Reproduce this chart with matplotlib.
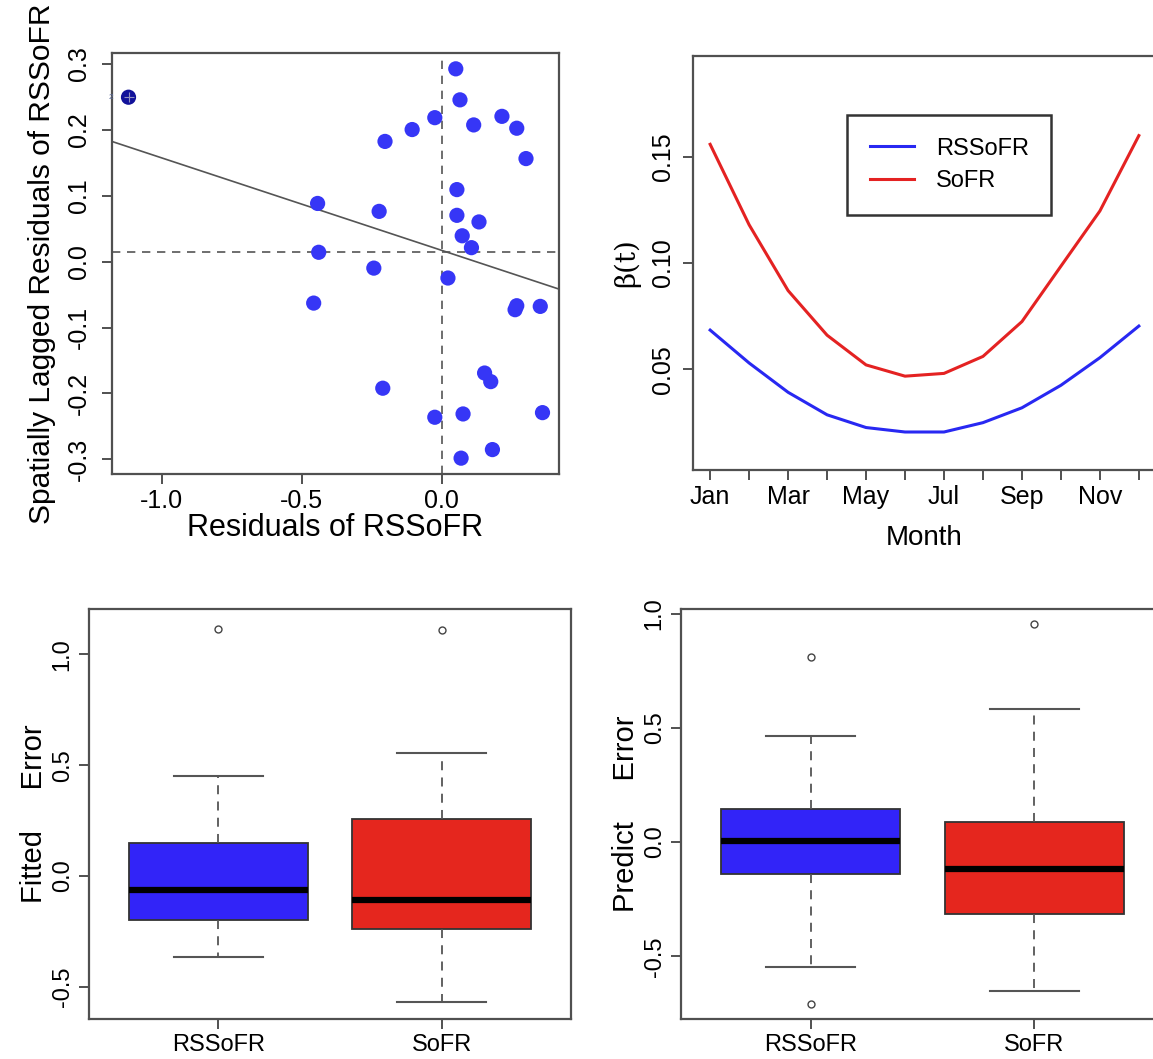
"""
Residual diagnostics and coefficient curves for RSSoFR vs SoFR (four panels).
"""

import matplotlib
matplotlib.use("Agg")
import matplotlib.pyplot as plt
from matplotlib import font_manager

# --- Moran scatter: residuals vs spatially lagged residuals -----------------
resid = [-1.119, 0.051, 0.066, -0.024, 0.115, 0.216, 0.269, -0.105, -0.202,
         0.302, 0.055, -0.443, -0.223, 0.055, 0.134, 0.074, 0.107, -0.439,
         -0.242, 0.023, -0.457, 0.269, 0.263, 0.353, 0.154, 0.176, -0.210,
         -0.024, 0.077, 0.361, 0.182, 0.070]
lagged = [0.249, 0.292, 0.245, 0.218, 0.207, 0.220, 0.202, 0.200, 0.182,
          0.156, 0.109, 0.088, 0.076, 0.070, 0.060, 0.039, 0.021, 0.014,
          -0.010, -0.025, -0.063, -0.067, -0.073, -0.068, -0.169, -0.182,
          -0.192, -0.236, -0.231, -0.229, -0.285, -0.298]
influential_idx = 0
influential_label = "2"
fit_intercept = 0.017
fit_slope = -0.140
mean_resid = 0.0
mean_lagged = 0.0146

# --- beta(t) curves ---------------------------------------------------------
months = [1, 2, 3, 4, 5, 6, 7, 8, 9, 10, 11, 12]
month_labels = ["Jan", "", "Mar", "", "May", "", "Jul", "", "Sep", "", "Nov", ""]
beta_rssofr = [0.0684, 0.0529, 0.0391, 0.0285, 0.0225, 0.0204, 0.0204,
               0.0248, 0.0318, 0.0424, 0.0554, 0.0703]
beta_sofr = [0.1559, 0.1180, 0.0870, 0.0660, 0.0520, 0.0467, 0.0480,
             0.0560, 0.0724, 0.0985, 0.1245, 0.1600]

# --- boxplot summaries ------------------------------------------------------
models = ["RSSoFR", "SoFR"]
fit_stats = {
    "RSSoFR": dict(whislo=-0.365, q1=-0.199, med=-0.064, q3=0.150, whishi=0.450, fliers=[1.116]),
    "SoFR": dict(whislo=-0.568, q1=-0.240, med=-0.106, q3=0.258, whishi=0.556, fliers=[1.111]),
}
pred_stats = {
    "RSSoFR": dict(whislo=-0.545, q1=-0.141, med=0.006, q3=0.146, whishi=0.465, fliers=[0.808, -0.708]),
    "SoFR": dict(whislo=-0.652, q1=-0.315, med=-0.118, q3=0.089, whishi=0.583, fliers=[0.953]),
}

BLUE = "#3224F8"
RED = "#E5261E"
PT_BLUE = "#3636F6"
EDGE = "#505050"

W, H = 1153, 1059


def pick_family(names):
    have = {f.name for f in font_manager.fontManager.ttflist}
    for n in names:
        if n in have:
            return n
    return "DejaVu Sans"


SANS = pick_family(["Liberation Sans", "Arial", "DejaVu Sans"])
plt.rcParams["font.family"] = SANS


def px_axes(fig, x0, y0, x1, y1):
    return fig.add_axes([x0 / W, 1 - y1 / H, (x1 - x0) / W, (y1 - y0) / H])


def style_axes(ax, tick_size, xpad, ypad):
    for s in ax.spines.values():
        s.set_color(EDGE)
        s.set_linewidth(1.6)
    ax.tick_params(direction="out", length=7, width=1.4, color=EDGE,
                   labelsize=tick_size)
    ax.tick_params(axis="x", pad=xpad)
    ax.tick_params(axis="y", pad=ypad)
    plt.setp(ax.get_yticklabels(), rotation=90, va="center")


fig = plt.figure(figsize=(W / 100, H / 100), dpi=100)

# Panel 1 -------------------------------------------------------------------
ax1 = px_axes(fig, 112, 53, 559, 474)
ax1.set_xlim(-1.178, 0.420)
ax1.set_ylim(-0.322, 0.316)
others_x = [v for i, v in enumerate(resid) if i != influential_idx]
others_y = [v for i, v in enumerate(lagged) if i != influential_idx]
ax1.scatter(others_x, others_y, s=120, color=PT_BLUE, edgecolors="none", zorder=3)
ax1.scatter([resid[influential_idx]], [lagged[influential_idx]], s=120,
            color="#12129A", edgecolors="none", zorder=3)
ax1.scatter([resid[influential_idx]], [lagged[influential_idx]], s=60,
            marker="+", color="#9090C0", linewidths=0.8, zorder=4)
ax1.annotate(influential_label, (resid[influential_idx], lagged[influential_idx]),
             xytext=(-14, 0), textcoords="offset points", fontsize=6,
             color="#6070A0", va="center")
ax1.axline((0, fit_intercept), slope=fit_slope, color="#555555", lw=1.2, zorder=2)
ax1.axhline(mean_lagged, color="#555555", lw=1.2, ls=(0, (5, 4)), zorder=2)
ax1.axvline(mean_resid, color="#555555", lw=1.2, ls=(0, (5, 4)), zorder=2)
ax1.set_xticks([-1.0, -0.5, 0.0])
ax1.set_xticklabels(["-1.0", "-0.5", "0.0"])
ax1.set_yticks([-0.3, -0.2, -0.1, 0.0, 0.1, 0.2, 0.3])
ax1.set_yticklabels(["-0.3", "-0.2", "-0.1", "0.0", "0.1", "0.2", "0.3"])
style_axes(ax1, 18, 4, 8)
ax1.set_xlabel("Residuals of RSSoFR", fontsize=22, labelpad=0)
ax1.set_ylabel("Spatially Lagged Residuals of RSSoFR", fontsize=21.5, labelpad=8)

# Panel 2 -------------------------------------------------------------------
ax2 = px_axes(fig, 693, 56, 1156, 470)
ax2.plot(months, beta_rssofr, color="#2828F2", lw=2.2, label="RSSoFR")
ax2.plot(months, beta_sofr, color="#E42222", lw=2.2, label="SoFR")
ax2.set_xlim(0.56, 12.44)
ax2.set_ylim(0.0025, 0.1975)
ax2.set_xticks(months)
ax2.set_xticklabels(month_labels)
ax2.set_yticks([0.05, 0.10, 0.15])
ax2.set_yticklabels(["0.05", "0.10", "0.15"])
style_axes(ax2, 18, 4, 6)
ax2.set_xlabel("Month", fontsize=20, labelpad=11)
ax2.set_ylabel("β(t)", fontsize=20, family="DejaVu Serif", labelpad=8)
leg = ax2.legend(loc="upper left", bbox_to_anchor=(0.333, 0.857), fontsize=17,
                 frameon=True, fancybox=False, borderpad=0.95, handlelength=1.9,
                 handletextpad=0.9, labelspacing=0.45, borderaxespad=0)
leg.get_frame().set_edgecolor("black")
leg.get_frame().set_linewidth(1.8)


# Panels 3 & 4 ----------------------------------------------------------------
def draw_box(ax, stats, ylim, yticks, ylabel):
    rows = [dict(stats[m], label=m) for m in models]
    parts = ax.bxp(rows, positions=[1, 2], widths=0.8, capwidths=0.4,
                   patch_artist=True, showfliers=True,
                   boxprops=dict(edgecolor="#333333", linewidth=1.3),
                   whiskerprops=dict(color="#555555", linewidth=1.3, linestyle=(0, (5, 4))),
                   capprops=dict(color="#555555", linewidth=1.5),
                   medianprops=dict(color="black", linewidth=4.5, solid_capstyle="butt"),
                   flierprops=dict(marker="o", markerfacecolor="none",
                                   markeredgecolor="#444444", markersize=5,
                                   markeredgewidth=1.0))
    for patch, col in zip(parts["boxes"], [BLUE, RED]):
        patch.set_facecolor(col)
    ax.set_xlim(0.42, 2.58)
    ax.set_ylim(*ylim)
    ax.set_yticks(yticks)
    ax.set_yticklabels([f"{t:.1f}" for t in yticks])
    style_axes(ax, 17, 4, 4)
    ax.tick_params(axis="x", labelsize=17)
    ax.set_ylabel(ylabel, fontsize=21, labelpad=3)


ax3 = px_axes(fig, 89, 609, 571, 1019)
draw_box(ax3, fit_stats, (-0.645, 1.205), [-0.5, 0.0, 0.5, 1.0], "Fitted     Error")

ax4 = px_axes(fig, 681, 609, 1164, 1019)
draw_box(ax4, pred_stats, (-0.774, 1.020), [-0.5, 0.0, 0.5, 1.0], "Predict     Error")

fig.savefig("out.png", dpi=100)
